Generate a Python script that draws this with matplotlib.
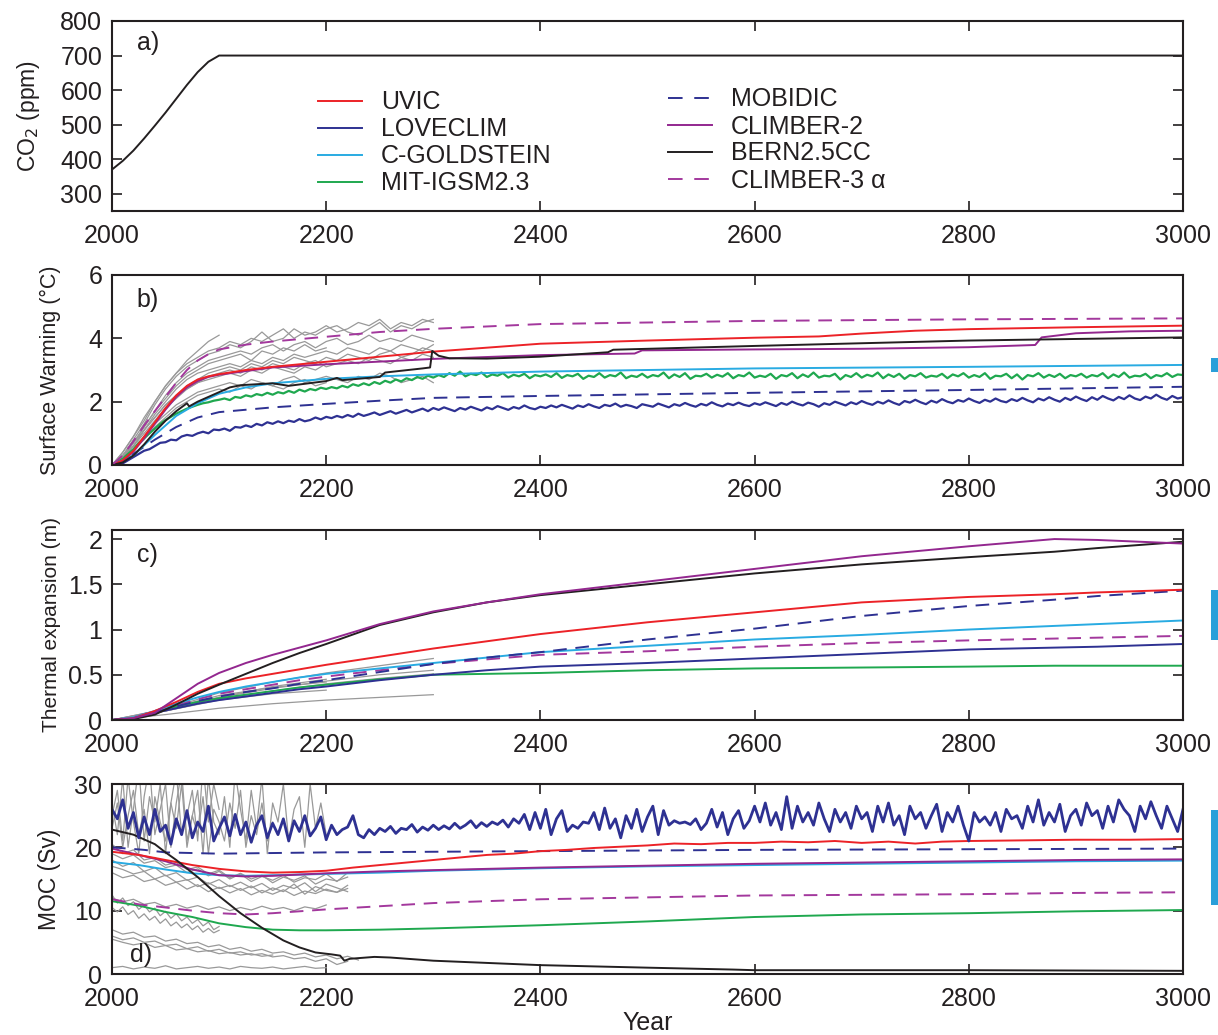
import numpy as np
import matplotlib
matplotlib.use('Agg')
import matplotlib.pyplot as plt
from matplotlib.lines import Line2D
from matplotlib.patches import Rectangle
from matplotlib.ticker import FuncFormatter

plt.rcParams['font.family'] = ['Liberation Sans', 'DejaVu Sans']
TXT = '#231f20'

# ---------------- data ----------------
model_names = ['UVIC', 'LOVECLIM', 'C-GOLDSTEIN', 'MIT-IGSM2.3',
               'MOBIDIC', 'CLIMBER-2', 'BERN2.5CC', 'CLIMBER-3 \u03b1']

# panel a: CO2 (ppm)
co2_years = [2000, 2010, 2020, 2030, 2040, 2050, 2060, 2070, 2080, 2090, 2100, 3000]
co2_ppm = [370, 395, 425, 460, 497, 535, 575, 615, 652, 682, 700, 700]

# panel b: surface warming (degC)
b_climber3_yr = [2000, 2010, 2020, 2030, 2040, 2050, 2060, 2070, 2080, 2090, 2100, 2125, 2150,
                 2200, 2250, 2300, 2400, 2500, 2600, 2800, 3000]
b_climber3 = [0, 0.3, 0.75, 1.25, 1.7, 2.15, 2.6, 3.0, 3.3, 3.5, 3.65, 3.8, 3.9,
              4.05, 4.2, 4.3, 4.45, 4.5, 4.55, 4.6, 4.63]
b_uvic_yr = [2000, 2010, 2020, 2030, 2040, 2050, 2060, 2070, 2080, 2090, 2100, 2125, 2150, 2200,
             2250, 2300, 2400, 2500, 2600, 2660, 2700, 2750, 2800, 2900, 3000]
b_uvic = [0, 0.15, 0.45, 0.9, 1.35, 1.8, 2.2, 2.5, 2.7, 2.8, 2.87, 3.0, 3.1, 3.26,
          3.42, 3.58, 3.83, 3.93, 4.02, 4.06, 4.15, 4.24, 4.29, 4.35, 4.4]
b_climber2_yr = [2000, 2010, 2020, 2030, 2040, 2050, 2060, 2070, 2080, 2090, 2100, 2150, 2200, 2300,
                 2400, 2488, 2495, 2600, 2700, 2800, 2862, 2868, 2900, 2950, 3000]
b_climber2 = [0, 0.12, 0.42, 0.85, 1.3, 1.75, 2.15, 2.45, 2.65, 2.78, 2.85, 3.08, 3.18, 3.35,
              3.47, 3.52, 3.62, 3.65, 3.67, 3.72, 3.79, 4.03, 4.16, 4.22, 4.24]
b_bern_yr = [2000, 2010, 2020, 2030, 2040, 2050, 2060, 2070, 2072, 2080, 2090, 2100, 2110, 2120,
             2150, 2165, 2200, 2210, 2215, 2250, 2255, 2290, 2297, 2299, 2305, 2315, 2350,
             2400, 2463, 2468, 2600, 2800, 3000]
b_bern = [0, 0.08, 0.3, 0.65, 1.05, 1.4, 1.7, 1.95, 1.85, 2.0, 2.15, 2.3, 2.45, 2.52,
          2.58, 2.5, 2.65, 2.75, 2.68, 2.78, 2.92, 3.05, 3.08, 3.6, 3.45, 3.37, 3.36,
          3.42, 3.56, 3.64, 3.76, 3.93, 4.03]
b_cgold_yr = [2000, 2020, 2040, 2060, 2080, 2100, 2125, 2150, 2200, 2250, 2300, 2400, 2600, 2800, 3000]
b_cgold = [0, 0.3, 0.95, 1.55, 1.95, 2.25, 2.45, 2.58, 2.72, 2.8, 2.86, 2.95, 3.05, 3.1, 3.16]
b_mobidic_yr = [2000, 2020, 2040, 2060, 2080, 2100, 2150, 2200, 2250, 2300, 2400, 2500, 2600, 2800, 3000]
b_mobidic = [0, 0.35, 0.8, 1.2, 1.5, 1.67, 1.82, 1.93, 2.03, 2.12, 2.18, 2.23, 2.28, 2.37, 2.47]
# noisy series, 5-year steps from 2000
b_loveclim = [0.0, -0.02, 0.05, 0.15, 0.25, 0.35, 0.45, 0.5, 0.6, 0.7, 0.72, 0.8, 0.78, 0.9, 0.95, 0.92, 1.0, 1.05, 1.0, 1.12, 1.1,
              1.15, 1.08, 1.2, 1.18, 1.25, 1.2, 1.3, 1.25, 1.35, 1.3, 1.38, 1.32, 1.4, 1.36, 1.45, 1.38, 1.42, 1.5, 1.44, 1.52,
              1.48, 1.55, 1.5, 1.58, 1.52, 1.62, 1.55, 1.6, 1.66, 1.58, 1.64, 1.7, 1.62, 1.68, 1.74, 1.66, 1.72, 1.78, 1.7, 1.8,
              1.74, 1.82, 1.76, 1.7, 1.8, 1.75, 1.84, 1.78, 1.72, 1.82, 1.76, 1.86, 1.8, 1.74, 1.83, 1.78, 1.88, 1.8, 1.76, 1.84,
              1.8, 1.88, 1.82, 1.9, 1.84, 1.78, 1.88, 1.83, 1.92, 1.85, 1.8, 1.9, 1.86, 1.94, 1.84, 1.9, 1.86, 1.8, 1.92, 1.88,
              1.84, 1.94, 1.88, 1.82, 1.92, 1.87, 1.96, 1.89, 1.84, 1.93, 1.88, 1.98, 1.9, 1.85, 1.94, 1.89, 1.97, 1.9, 1.86, 1.95,
              1.9, 1.98, 1.92, 1.86, 1.96, 1.9, 2.0, 1.93, 1.88, 1.97, 1.92, 1.84, 1.95, 1.9, 2.0, 1.94, 1.88, 1.98, 1.92, 2.02,
              1.95, 1.9, 2.0, 1.94, 2.04, 1.96, 1.9, 2.02, 1.97, 2.06, 1.98, 1.92, 2.03, 1.97, 2.08, 2.0, 1.95, 2.05, 2.0, 2.1,
              2.02, 1.96, 2.06, 2.0, 2.1, 2.02, 1.98, 2.08, 2.02, 2.12, 2.04, 1.98, 2.1, 2.04, 2.14, 2.06, 2.0, 2.12, 2.05, 2.16,
              2.08, 2.02, 2.14, 2.06, 2.18, 2.1, 2.04, 2.15, 2.08, 2.2, 2.1, 2.05, 2.16, 2.1, 2.22, 2.12, 2.06, 2.18, 2.1, 2.14]
b_mit = [0.0, 0.1, 0.2, 0.35, 0.5, 0.7, 0.85, 1.0, 1.15, 1.3, 1.42, 1.52, 1.62, 1.7, 1.78, 1.84, 1.9, 1.95, 1.98, 2.03, 2.06,
         2.1, 2.05, 2.15, 2.12, 2.2, 2.16, 2.24, 2.2, 2.28, 2.22, 2.3, 2.26, 2.34, 2.28, 2.38, 2.32, 2.4, 2.36, 2.44, 2.4,
         2.46, 2.42, 2.5, 2.45, 2.55, 2.5, 2.58, 2.52, 2.62, 2.56, 2.66, 2.6, 2.7, 2.64, 2.74, 2.68, 2.78, 2.72, 2.82, 2.76,
         2.84, 2.78, 2.9, 2.82, 2.95, 2.8, 2.88, 2.84, 2.92, 2.78, 2.86, 2.82, 2.9, 2.76, 2.85, 2.8, 2.88, 2.74, 2.84, 2.8,
         2.86, 2.78, 2.9, 2.75, 2.84, 2.8, 2.88, 2.72, 2.82, 2.78, 2.9, 2.76, 2.84, 2.8, 2.92, 2.74, 2.82, 2.78, 2.88, 2.76,
         2.84, 2.8, 2.92, 2.74, 2.86, 2.78, 2.9, 2.72, 2.82, 2.8, 2.88, 2.76, 2.85, 2.79, 2.9, 2.74, 2.84, 2.8, 2.92, 2.76,
         2.82, 2.78, 2.88, 2.72, 2.84, 2.8, 2.9, 2.74, 2.86, 2.78, 2.92, 2.76, 2.82, 2.8, 2.88, 2.7, 2.84, 2.78, 2.9, 2.76,
         2.85, 2.8, 2.92, 2.74, 2.86, 2.78, 2.88, 2.72, 2.84, 2.8, 2.9, 2.76, 2.82, 2.79, 2.88, 2.74, 2.86, 2.8, 2.9, 2.76,
         2.84, 2.78, 2.9, 2.72, 2.82, 2.8, 2.88, 2.74, 2.86, 2.7, 2.84, 2.8, 2.9, 2.76, 2.85, 2.78, 2.88, 2.74, 2.84, 2.8,
         2.88, 2.76, 2.84, 2.8, 2.9, 2.74, 2.86, 2.78, 2.92, 2.76, 2.82, 2.8, 2.88, 2.74, 2.84, 2.8, 2.9, 2.78, 2.86, 2.84]
# AOGCM (grey) runs, 10-year steps from 2000
b_grey = [
    [0, 0.4, 0.9, 1.5, 2.0, 2.5, 2.9, 3.3, 3.6, 3.9, 4.1],
    [0, 0.3, 0.8, 1.3, 1.9, 2.4, 2.8, 3.1, 3.3, 3.5, 3.6, 3.8, 3.7, 3.9, 4.2, 3.9, 4.0, 4.3, 4.1, 4.2, 4.4,
     4.2, 4.3, 4.5, 4.4, 4.6, 4.3, 4.5, 4.4, 4.6, 4.5],
    [0, 0.2, 0.7, 1.2, 1.7, 2.2, 2.6, 2.9, 3.1, 3.3, 3.4, 3.5, 3.6, 3.5, 3.7, 3.8, 3.6, 3.8, 3.9, 3.7, 3.9,
     4.0, 3.8, 3.9, 4.1, 3.9, 4.0, 3.9, 4.1, 4.0, 3.9],
    [0, 0.3, 0.6, 1.1, 1.6, 2.0, 2.4, 2.7, 2.9, 3.0, 3.1, 3.2, 3.1, 3.3, 3.2, 3.4, 3.3, 3.5, 3.4, 3.5, 3.6,
     3.5, 3.7, 3.6, 3.5, 3.7, 3.6, 3.8, 3.7, 3.6, 3.8],
    [0, 0.2, 0.6, 1.0, 1.4, 1.8, 2.1, 2.4, 2.6, 2.8, 2.9, 3.0, 2.9, 3.1, 3.0, 3.2, 3.1, 3.0, 3.2, 3.3, 3.1,
     3.2, 3.3, 3.2, 3.4, 3.3, 3.2, 3.4, 3.3, 3.5, 3.4],
    [0, 0.2, 0.5, 0.9, 1.3, 1.6, 1.9, 2.1, 2.3, 2.4, 2.5, 2.6, 2.5, 2.7, 2.6, 2.5, 2.7, 2.8, 2.6, 2.7, 2.8,
     2.7, 2.6, 2.8, 2.7, 2.9, 2.8, 2.6, 2.7, 2.8, 2.6],
    [0, 0.3, 0.7, 1.2, 1.7, 2.1, 2.5, 2.8, 3.0, 3.2, 3.3, 3.4, 3.5, 3.3, 3.6, 3.5, 3.7, 3.6, 3.8, 3.6, 3.7],
    [0, 0.2, 0.6, 1.1, 1.5, 1.9, 2.2, 2.4, 2.6, 2.7, 2.8, 2.9, 2.8, 3.0, 2.9, 3.1, 3.0, 2.9, 3.1, 3.0, 3.2],
    [0, 0.3, 0.7, 1.1, 1.5, 1.9, 2.2, 2.5, 2.7, 2.9, 3.0, 3.1, 3.0, 3.2, 3.1, 3.3, 3.2, 3.4, 3.3, 3.2, 3.4,
     3.3, 3.5, 3.4, 3.3, 3.5, 3.6, 3.4, 3.5, 3.7, 3.6],
    [0, 0.2, 0.5, 0.8, 1.2, 1.5, 1.8, 2.0, 2.2, 2.3, 2.4, 2.3, 2.5, 2.4, 2.6, 2.5, 2.4, 2.6, 2.7, 2.5, 2.6],
    [0, 0.4, 0.9, 1.4, 2.0, 2.5, 2.9, 3.2, 3.4, 3.6, 3.7, 3.9, 3.8, 4.0, 3.9, 4.1, 4.3, 4.0, 4.2, 4.1, 4.3,
     4.4, 4.2, 4.1, 4.3, 4.5, 4.2, 4.4, 4.3, 4.5, 4.6],
]

# panel c: thermal expansion (m)
c_years = [2000, 2020, 2040, 2060, 2080, 2100, 2125, 2150, 2175, 2200, 2250, 2300, 2350, 2400,
           2500, 2600, 2700, 2800, 2880, 2920, 3000]
c_climber2 = [0, 0.02, 0.08, 0.24, 0.4, 0.52, 0.63, 0.72, 0.8, 0.88, 1.06, 1.2, 1.3, 1.39,
              1.53, 1.67, 1.81, 1.92, 2.0, 1.99, 1.95]
c_bern = [0, 0.01, 0.06, 0.17, 0.29, 0.39, 0.51, 0.63, 0.74, 0.84, 1.05, 1.19, 1.3, 1.38,
          1.5, 1.62, 1.72, 1.8, 1.86, 1.9, 1.97]
c_uvic = [0, 0.02, 0.1, 0.2, 0.31, 0.4, 0.46, 0.51, 0.56, 0.61, 0.7, 0.79, 0.87, 0.95,
          1.08, 1.19, 1.3, 1.36, 1.39, 1.41, 1.44]
c_mobidic = [0, 0.02, 0.08, 0.15, 0.21, 0.26, 0.31, 0.35, 0.4, 0.44, 0.53, 0.62, 0.69, 0.75,
             0.89, 1.01, 1.15, 1.26, 1.33, 1.37, 1.43]
c_cgold = [0, 0.03, 0.1, 0.18, 0.25, 0.31, 0.37, 0.42, 0.47, 0.51, 0.57, 0.63, 0.69, 0.75,
           0.82, 0.89, 0.94, 1.0, 1.04, 1.06, 1.1]
c_climber3 = [0, 0.03, 0.1, 0.17, 0.23, 0.29, 0.34, 0.39, 0.44, 0.48, 0.55, 0.62, 0.67, 0.72,
              0.76, 0.81, 0.85, 0.88, 0.9, 0.91, 0.93]
c_loveclim = [0, 0.02, 0.08, 0.13, 0.18, 0.22, 0.26, 0.3, 0.34, 0.37, 0.44, 0.5, 0.55, 0.59,
              0.63, 0.68, 0.73, 0.78, 0.8, 0.81, 0.84]
c_mit = [0, 0.02, 0.09, 0.15, 0.2, 0.24, 0.28, 0.32, 0.36, 0.39, 0.45, 0.5, 0.51, 0.52,
         0.55, 0.57, 0.58, 0.59, 0.6, 0.6, 0.6]
# grey runs, 50-year steps from 2000
c_grey = [
    [0, 0.12, 0.3, 0.42, 0.52, 0.6, 0.68],
    [0, 0.1, 0.25, 0.35, 0.43, 0.5, 0.55],
    [0, 0.1, 0.23, 0.32, 0.4, 0.46, 0.51],
    [0, 0.06, 0.13, 0.18, 0.22, 0.25, 0.28],
    [0, 0.12, 0.27, 0.36, 0.42],
    [0, 0.1, 0.22, 0.29, 0.33],
    [0, 0.11, 0.25, 0.37, 0.45],
]

# panel d: MOC (Sv)
d_loveclim = [26.0, 24.5, 27.5, 23.0, 25.5, 21.5, 24.8, 22.0, 26.0, 22.5, 23.5, 20.5, 24.5, 22.0, 25.8, 21.5, 24.0, 22.5, 26.5, 21.0, 23.0,
              24.8, 21.8, 25.2, 22.0, 24.0, 20.8, 23.5, 25.0, 21.5, 23.8, 22.0, 24.5, 21.0, 24.2, 22.5, 25.0, 21.8, 23.0, 24.8, 21.2,
              23.5, 22.0, 22.8, 23.2, 25.0, 22.0, 21.5, 22.8, 22.0, 23.0, 22.5, 23.3, 22.2, 23.0, 22.8, 23.6, 22.4, 23.2, 22.7, 23.5,
              22.8, 23.4, 22.9, 23.8, 23.0, 23.5, 24.2, 23.1, 23.9, 23.3, 24.0, 23.6, 24.3, 23.2, 24.5, 23.8, 25.2, 22.8, 25.5, 23.0,
              26.0, 22.0, 24.5, 25.8, 22.5, 23.5, 23.0, 24.0, 23.8, 25.5, 22.8, 26.2, 23.0, 24.5, 21.5, 25.0, 23.0, 26.0, 22.5, 24.8,
              26.5, 22.0, 25.8, 23.5, 24.2, 23.8, 24.0, 23.6, 24.5, 22.8, 23.8, 26.0, 23.2, 25.5, 22.0, 24.5, 25.8, 23.0, 24.2, 26.5,
              24.0, 27.0, 23.5, 25.5, 22.8, 28.0, 23.0, 26.5, 24.0, 25.5, 23.5, 27.0, 24.5, 22.5, 26.0, 24.0, 25.5, 23.0, 26.5, 24.5,
              25.5, 22.5, 26.5, 24.0, 27.0, 23.5, 25.0, 22.0, 26.5, 24.5, 25.5, 23.0, 25.0, 26.8, 22.5, 25.5, 24.0, 26.5, 23.5, 21.0,
              25.5, 24.0, 24.8, 23.5, 25.5, 22.5, 26.0, 24.5, 25.0, 23.0, 26.5, 24.0, 27.5, 23.5, 25.5, 24.0, 26.8, 22.5, 25.0, 26.0,
              23.5, 27.0, 25.0, 25.8, 23.0, 26.5, 24.0, 27.5, 26.0, 25.0, 22.5, 26.5, 24.5, 27.2, 25.0, 23.0, 26.5, 24.5, 22.5, 26.0]
d_mobidic_yr = [2000, 2030, 2050, 2100, 2200, 2400, 2600, 2800, 3000]
d_mobidic = [20.0, 19.6, 19.2, 19.0, 19.2, 19.4, 19.6, 19.7, 19.8]
d_uvic_yr = [2000, 2025, 2050, 2075, 2100, 2125, 2150, 2175, 2200, 2225, 2250, 2275, 2300, 2325, 2350, 2375,
             2400, 2425, 2450, 2475, 2500, 2525, 2550, 2575, 2600, 2625, 2650, 2675, 2700, 2725, 2750,
             2775, 2800, 2850, 2900, 2950, 3000]
d_uvic = [19.3, 18.8, 18.0, 17.2, 16.6, 16.2, 16.0, 16.1, 16.3, 16.8, 17.2, 17.6, 18.0, 18.4, 18.8, 19.0,
          19.4, 19.6, 19.9, 20.1, 20.3, 20.6, 20.5, 20.7, 20.7, 20.9, 20.8, 21.0, 20.7, 20.9, 20.6,
          20.9, 21.0, 21.1, 21.2, 21.2, 21.3]
d_smooth_yr = [2000, 2025, 2050, 2075, 2100, 2125, 2150, 2175, 2200, 2250, 2300, 2400, 2500, 2600, 2700, 2800, 2900, 3000]
d_climber2 = [19.8, 18.8, 17.8, 16.5, 15.6, 15.4, 15.5, 15.7, 15.9, 16.2, 16.4, 16.8, 17.1, 17.4, 17.6, 17.8, 18.0, 18.1]
d_cgold = [17.7, 17.2, 16.5, 15.9, 15.6, 15.5, 15.6, 15.7, 15.8, 16.0, 16.3, 16.7, 17.0, 17.2, 17.4, 17.6, 17.8, 17.9]
d_climber3 = [11.8, 11.0, 10.5, 10.0, 9.6, 9.4, 9.6, 9.9, 10.2, 10.7, 11.2, 11.8, 12.1, 12.4, 12.5, 12.6, 12.8, 12.9]
d_mit = [11.5, 10.8, 9.8, 9.0, 8.0, 7.4, 7.0, 6.9, 6.9, 7.0, 7.2, 7.7, 8.3, 9.0, 9.4, 9.6, 9.9, 10.1]
d_bern_yr = [2000, 2020, 2040, 2050, 2060, 2080, 2100, 2120, 2140, 2160, 2175, 2190, 2205, 2213, 2217,
             2222, 2245, 2260, 2300, 2400, 2500, 2580, 2600, 2800, 3000]
d_bern = [22.8, 22.0, 20.5, 19.2, 18.0, 15.3, 12.3, 9.6, 7.3, 5.3, 4.2, 3.4, 3.1, 2.9, 2.1,
          2.4, 2.7, 2.6, 2.1, 1.4, 1.0, 0.7, 0.6, 0.6, 0.5]
# grey runs: values from 2000 at 5-year or 10-year steps
d_grey_step5 = [
    [25, 29, 21, 31, 24, 19, 28, 33, 22, 26, 30, 20, 27, 32, 21, 25, 29, 19, 31, 24, 22, 28, 20, 32, 26, 21,
     29, 23, 31, 19, 27, 24, 30, 21, 26, 28, 20, 30, 23, 27, 22],
    [27, 22, 31, 20, 26, 33, 21, 28, 24, 30, 19, 27, 32, 22, 25, 29, 21, 33, 24, 30, 26],
    [23, 27, 20, 25, 29, 22, 26, 19, 28, 24, 21, 27, 23, 30, 20, 25, 22, 28, 19, 26, 24, 21, 27, 23, 29, 20,
     25, 22, 27, 21, 24],
    [12.5, 11.2, 12.0, 10.8, 11.4, 10.2, 10.9, 9.8, 10.4, 9.2, 9.9, 8.8, 9.5, 8.4, 9.0, 8.0, 8.6, 7.6, 8.2, 7.0, 7.5],
    [10.5, 9.8, 10.6, 9.4, 10.0, 8.8, 9.5, 8.5, 9.1, 8.0, 8.7, 7.6, 8.2, 7.3, 7.9, 7.0, 7.6, 6.6, 7.2, 6.5, 6.9],
]
d_grey_step10 = [
    [19, 18.2, 18.8, 17.5, 17.9, 16.8, 17.2, 16.0, 16.6, 15.5, 16.2, 15.0, 15.8, 14.6, 15.4, 14.8, 15.6, 14.5,
     15.2, 14.9, 15.8, 14.6, 16.0],
    [18, 17.0, 17.6, 16.2, 16.8, 15.5, 16.0, 14.8, 15.3, 14.2, 14.9, 13.8, 14.5, 13.6, 14.3, 13.2, 14.0, 13.5,
     14.4, 13.0, 14.2, 13.6, 13.0],
    [17, 16.5, 15.8, 16.2, 15.0, 15.6, 14.5, 14.9, 13.8, 14.4, 13.5, 14.0, 13.2, 13.9, 12.8, 13.6, 13.0, 14.2,
     12.6, 13.8, 13.2, 12.9, 14.0],
    [20.5, 19.0, 19.6, 18.0, 18.4, 17.2, 17.6, 16.5, 16.9, 15.8, 16.4, 15.2, 15.9, 15.0, 15.6, 14.4, 15.3, 14.8,
     15.5, 14.2, 15.0, 14.7, 15.3],
    [16, 15.2, 15.6, 14.6, 15.0, 14.0, 14.5, 13.4, 14.1, 13.0, 13.7, 12.8, 13.5, 12.5, 13.2, 12.6, 13.3, 12.4,
     13.1, 12.7, 13.4, 12.9, 13.5],
    [12.0, 11.4, 11.8, 11.0, 11.3, 10.6, 11.0, 10.4, 10.8, 10.2, 10.6, 10.0, 10.5, 10.1, 10.7, 10.2, 10.5, 10.0,
     10.6, 10.3, 10.9],
    [7.0, 6.3, 6.6, 5.8, 6.0, 5.2, 5.5, 4.8, 5.0, 4.3, 4.6, 3.9, 4.2, 3.6, 3.9, 3.3, 3.5, 3.0, 3.3, 2.7, 3.0,
     2.4, 2.8, 2.2],
    [6.0, 5.4, 5.7, 5.0, 5.2, 4.5, 4.7, 4.0, 4.3, 3.6, 3.9, 3.3, 3.5, 3.0, 3.2, 2.7, 2.9, 2.4, 2.6, 2.0, 2.4,
     1.5, 2.0],
    [5.5, 5.0, 4.6, 4.9, 4.2, 4.5, 3.8, 4.0, 3.5, 3.7, 3.2, 3.4, 3.0, 3.2, 2.8, 3.0],
    [1.0, 1.2, 0.8, 1.1, 0.9, 1.3, 0.8, 1.0, 1.2, 0.9, 1.1, 0.8, 1.2, 1.0, 0.9, 1.1, 0.8, 1.0, 1.2, 0.9, 1.0],
]

x_ticks = [2000, 2200, 2400, 2600, 2800, 3000]

# ---------------- styles ----------------
COL = {'UVIC': '#ec2227', 'LOVECLIM': '#2e3192', 'CGOLD': '#29abe2', 'MIT': '#1fa84f',
       'MOBIDIC': '#2e3192', 'CLIMBER2': '#93278f', 'BERN': '#231f20', 'CLIMBER3': '#a3389d',
       'GREY': '#999999'}
LW = 1.4
DASH = (7, 4.5)
YLAB_FS = 15.5


def steps(vals, step, start=2000):
    return start + step * np.arange(len(vals))


fig = plt.figure(figsize=(12.18, 10.35), dpi=100)
fig.patch.set_facecolor('white')
W, H = 1218.0, 1035.0
left = 112 / W
width = (1183 - 112) / W
ph = 190 / H
bottoms_px = [211, 465, 720, 974]
axes = [fig.add_axes([left, 1 - b / H, width, ph]) for b in bottoms_px]


def style(ax, ylim, yticks):
    ax.set_xlim(2000, 3000)
    ax.set_ylim(*ylim)
    ax.set_xticks(x_ticks)
    ax.set_yticks(yticks)
    ax.tick_params(direction='in', length=7.5, width=1.2, top=True, right=True,
                   labelsize=18, pad=7, colors=TXT)
    ax.tick_params(axis='x', pad=9.5)
    for s in ax.spines.values():
        s.set_linewidth(1.5)
        s.set_color(TXT)
    ax.yaxis.set_major_formatter(FuncFormatter(lambda v, p: f'{v:g}'))


# ---- panel a ----
ax = axes[0]
ax.plot(co2_years, co2_ppm, color=COL['BERN'], lw=LW)
style(ax, (250, 800), [300, 400, 500, 600, 700, 800])
ax.set_ylabel('CO$_2$ (ppm)', fontsize=16.5, color=TXT)
ax.yaxis.set_label_coords((42 - 112) / 1071, 0.5)
ax.text(0.023, 0.884, 'a)', transform=ax.transAxes, fontsize=18, va='center', color=TXT)

handles = [
    Line2D([], [], color=COL['UVIC'], lw=LW),
    Line2D([], [], color=COL['LOVECLIM'], lw=LW),
    Line2D([], [], color=COL['CGOLD'], lw=LW),
    Line2D([], [], color=COL['MIT'], lw=LW),
    Line2D([], [], color=COL['MOBIDIC'], lw=LW, dashes=(7.5, 6)),
    Line2D([], [], color=COL['CLIMBER2'], lw=LW),
    Line2D([], [], color=COL['BERN'], lw=LW),
    Line2D([], [], color=COL['CLIMBER3'], lw=LW, dashes=(7.5, 6)),
]
leg_kw = dict(loc='upper left', frameon=False, fontsize=18, borderpad=0, borderaxespad=0,
              handlelength=1.76, handletextpad=0.75, labelspacing=0.12, labelcolor=TXT)
leg1 = ax.legend(handles[:4], model_names[:4], bbox_to_anchor=(0.1923, 0.635), **leg_kw)
ax.add_artist(leg1)
ax.legend(handles[4:], model_names[4:], bbox_to_anchor=(0.519, 0.65), **leg_kw)

# ---- panel b ----
ax = axes[1]
for g in b_grey:
    ax.plot(steps(g, 10), g, color=COL['GREY'], lw=0.9)
ax.plot(steps(b_loveclim, 5), b_loveclim, color=COL['LOVECLIM'], lw=1.6)
ax.plot(b_mobidic_yr, b_mobidic, color=COL['MOBIDIC'], lw=LW, dashes=DASH)
ax.plot(steps(b_mit, 5), b_mit, color=COL['MIT'], lw=1.6)
ax.plot(b_cgold_yr, b_cgold, color=COL['CGOLD'], lw=LW)
ax.plot(b_climber2_yr, b_climber2, color=COL['CLIMBER2'], lw=LW)
ax.plot(b_uvic_yr, b_uvic, color=COL['UVIC'], lw=LW)
ax.plot(b_bern_yr, b_bern, color=COL['BERN'], lw=LW)
ax.plot(b_climber3_yr, b_climber3, color=COL['CLIMBER3'], lw=LW, dashes=DASH)
style(ax, (0, 6), [0, 2, 4, 6])
ax.set_ylabel('Surface Warming (\u00b0C)', fontsize=YLAB_FS, color=TXT)
ax.yaxis.set_label_coords((61 - 112) / 1071, 0.5)
ax.text(0.023, 0.868, 'b)', transform=ax.transAxes, fontsize=18, va='center', color=TXT)

# ---- panel c ----
ax = axes[2]
for g in c_grey:
    ax.plot(steps(g, 50), g, color=COL['GREY'], lw=0.9)
ax.plot(c_years, c_mit, color=COL['MIT'], lw=LW)
ax.plot(c_years, c_loveclim, color=COL['LOVECLIM'], lw=LW)
ax.plot(c_years, c_climber3, color=COL['CLIMBER3'], lw=LW, dashes=DASH)
ax.plot(c_years, c_cgold, color=COL['CGOLD'], lw=LW)
ax.plot(c_years, c_mobidic, color=COL['MOBIDIC'], lw=LW, dashes=DASH)
ax.plot(c_years, c_uvic, color=COL['UVIC'], lw=LW)
ax.plot(c_years, c_bern, color=COL['BERN'], lw=LW)
ax.plot(c_years, c_climber2, color=COL['CLIMBER2'], lw=LW)
style(ax, (0, 2.1), [0, 0.5, 1, 1.5, 2])
ax.set_ylabel('Thermal expansion (m)', fontsize=15, color=TXT)
ax.yaxis.set_label_coords((61 - 112) / 1071, 0.5)
ax.text(0.023, 0.868, 'c)', transform=ax.transAxes, fontsize=18, va='center', color=TXT)

# ---- panel d ----
ax = axes[3]
for g in d_grey_step5:
    ax.plot(steps(g, 5), g, color=COL['GREY'], lw=0.9)
for g in d_grey_step10:
    ax.plot(steps(g, 10), g, color=COL['GREY'], lw=0.9)
ax.plot(d_smooth_yr, d_mit, color=COL['MIT'], lw=LW)
ax.plot(d_smooth_yr, d_climber3, color=COL['CLIMBER3'], lw=LW, dashes=DASH)
ax.plot(d_smooth_yr, d_cgold, color=COL['CGOLD'], lw=LW)
ax.plot(d_smooth_yr, d_climber2, color=COL['CLIMBER2'], lw=LW)
ax.plot(d_mobidic_yr, d_mobidic, color=COL['MOBIDIC'], lw=LW, dashes=DASH)
ax.plot(d_uvic_yr, d_uvic, color=COL['UVIC'], lw=LW)
ax.plot(d_bern_yr, d_bern, color=COL['BERN'], lw=LW)
ax.plot(steps(d_loveclim, 5), d_loveclim, color=COL['LOVECLIM'], lw=2.0)
style(ax, (0, 30), [0, 10, 20, 30])
ax.set_ylabel('MOC (Sv)', fontsize=16.5, color=TXT)
ax.yaxis.set_label_coords((61 - 112) / 1071, 0.5)
ax.text(0.017, 0.1, 'd)', transform=ax.transAxes, fontsize=18, va='center', color=TXT)
ax.set_xlabel('Year', fontsize=18, color=TXT, labelpad=0)

# cut-off blue marks at the right edge (from adjoining figure)
for top, bot in [(358, 372), (590, 640), (810, 905)]:
    fig.add_artist(Rectangle((1211 / W, 1 - bot / H), 7 / W, (bot - top) / H,
                             transform=fig.transFigure, color='#2b9fd9', lw=0))

fig.savefig('out.png', dpi=100, facecolor='white')
